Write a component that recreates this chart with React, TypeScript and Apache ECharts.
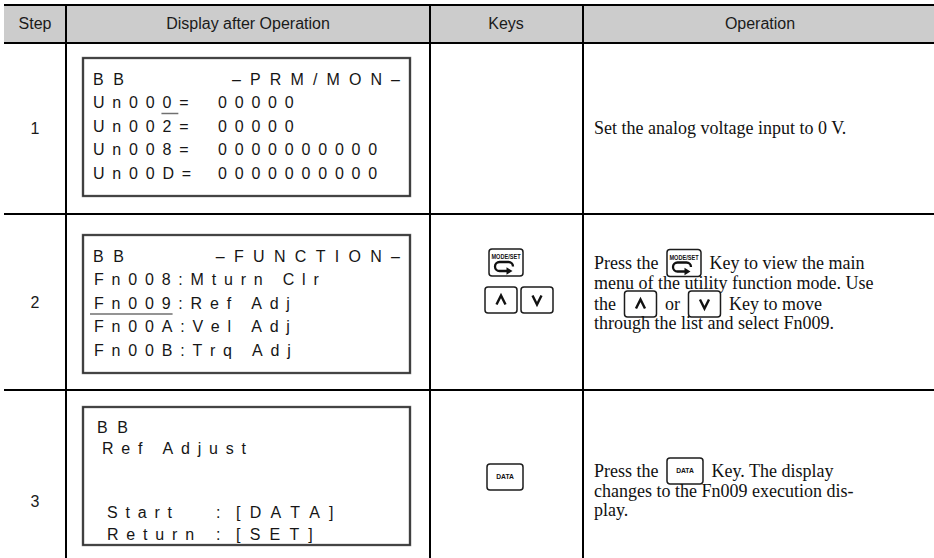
import React, { useEffect, useRef } from "react";
import * as echarts from "echarts";

// ---------------- data ----------------
const headers = ["Step", "Display after Operation", "Keys", "Operation"];
const steps = ["1", "2", "3"];

const display1: string[][] = [
  ["BB", "–PRM/MON–"],
  ["Un000=", "00000"],
  ["Un002=", "00000"],
  ["Un008=", "0000000000"],
  ["Un00D=", "0000000000"],
];
const display2: string[][] = [
  ["BB", "–FUNCTION–"],
  ["Fn008:Mturn Clr"],
  ["Fn009:Ref Adj"],
  ["Fn00A:Vel Adj"],
  ["Fn00B:Trq Adj"],
];
const display3: string[][] = [
  ["BB"],
  ["Ref Adjust"],
  [],
  [],
  ["Start", ":", "[DATA]"],
  ["Return", ":", "[SET]"],
];
// cursor underline: [row, first char, last char] of segment 0
const cursor1 = [1, 4, 4];
const cursor2 = [2, 0, 4];

const keys2: string[][] = [["MODE/SET"], ["UP", "DOWN"]];
const keys3: string[][] = [["DATA"]];

const operation1: string[][] = [["Set the analog voltage input to 0 V."]];
const operation2: string[][] = [
  ["Press the ", "{MODE/SET}", " Key to view the main"],
  ["menu of the utility function mode. Use"],
  ["the ", "{UP}", " or ", "{DOWN}", " Key to move"],
  ["through the list and select Fn009."],
];
const operation3: string[][] = [
  ["Press the ", "{DATA}", " Key. The display"],
  ["changes to the Fn009 execution dis-"],
  ["play."],
];

// ---------------- layout / style ----------------
const W = 934;
const H = 558;
const LCD_FONT = '16px "Liberation Sans"';
const HEAD_FONT = '16px "Liberation Sans"';
const OP_FONT = '18px "Liberation Serif"';
const INK = "#1a1a1a";

let shapesRegistered = false;
function registerShapes() {
  if (shapesRegistered) return;
  shapesRegistered = true;
  const Loop = (echarts.graphic as any).extendPath(
    "M 3 4.5 L -4.5 4.5 A 4.5 4.5 0 0 1 -4.5 -4.5 L 4.5 -4.5 A 4.5 4.5 0 0 1 9 0",
    {}
  );
  (echarts.graphic as any).registerShape("modeLoop", Loop);
}

let ctx: CanvasRenderingContext2D | null = null;
function measure(s: string, font: string): number {
  if (!ctx) ctx = document.createElement("canvas").getContext("2d");
  ctx!.font = font;
  return ctx!.measureText(s).width;
}

function txt(x: number, y: number, text: string, font: string, align = "left", fill = INK, scaleX = 1) {
  return {
    type: "text",
    x,
    y,
    scaleX,
    silent: true,
    style: {
      text,
      font,
      fill,
      textAlign: align,
      textVerticalAlign: "middle",
      align,
      verticalAlign: "middle",
    },
  };
}

function lcdSegment(els: any[], text: string, x: number, y: number, sp: number, right = false) {
  const chars = [...text];
  const ws = chars.map((c) => measure(c, LCD_FONT));
  const total = ws.reduce((a, b) => a + b, 0) + sp * (chars.length - 1);
  let cx = right ? x - total : x;
  const xs: number[] = [];
  chars.forEach((c, i) => {
    xs.push(cx);
    if (c !== " ") els.push(txt(cx, y, c, LCD_FONT, "left", "#161616"));
    cx += ws[i] + sp;
  });
  return { xs, ws };
}

function keyIcon(els: any[], kind: string, x: number, y: number, w: number, h: number) {
  els.push({
    type: "rect",
    shape: { x, y, width: w, height: h, r: 3 },
    style: { fill: "#fff", stroke: "#1c1c1c", lineWidth: 1.5 },
  });
  const cx = x + w / 2;
  const cy = y + h / 2;
  if (kind === "MODE/SET") {
    els.push(txt(cx, y + 7.5, "MODE/SET", 'bold 7px "Liberation Sans"', "center", "#111", 0.8));
    els.push({
      type: "modeLoop",
      x: cx - 2,
      y: y + 17.5,
      style: { fill: "none", stroke: "#111", lineWidth: 2.3 },
    });
    els.push({
      type: "polygon",
      x: cx - 2,
      y: y + 17.5,
      shape: { points: [[8.5, 4.5], [2.5, 0.8], [2.5, 8.2]] },
      style: { fill: "#111" },
    });
  } else if (kind === "UP" || kind === "DOWN") {
    const d = kind === "UP" ? 1 : -1;
    els.push({
      type: "polyline",
      shape: {
        points: [
          [cx - 4.5, cy + 4.5 * d],
          [cx, cy - 4.5 * d],
          [cx + 4.5, cy + 4.5 * d],
        ],
      },
      style: { fill: "none", stroke: "#111", lineWidth: 2.4 },
    });
  } else if (kind === "DATA") {
    els.push(txt(cx, cy, "DATA", 'bold 7.5px "Liberation Sans"', "center", "#111", 0.9));
  }
}

const ICON_SIZE: Record<string, [number, number]> = {
  "MODE/SET": [34, 27],
  UP: [32, 26],
  DOWN: [32, 26],
  DATA: [36, 26],
};

function opLines(els: any[], lines: string[][], ys: number[], x0: number) {
  lines.forEach((tokens, li) => {
    let x = x0;
    const y = ys[li];
    tokens.forEach((t) => {
      const m = t.match(/^\{(.+)\}$/);
      if (m) {
        const [w, h] = ICON_SIZE[m[1]];
        x += 4;
        keyIcon(els, m[1], x, y - h / 2, w, h);
        x += w + 4;
      } else {
        els.push(txt(x, y, t, OP_FONT, "left", "#111"));
        x += measure(t, OP_FONT);
      }
    });
  });
}

function buildElements() {
  const els: any[] = [];
  // header band
  els.push({ type: "rect", shape: { x: 4, y: 5, width: W - 4, height: 38 }, style: { fill: "#cccccc" } });
  // rules
  const hRules = [4, 42, 213, 389];
  hRules.forEach((y) =>
    els.push({ type: "rect", shape: { x: 4, y, width: W - 4, height: 2 }, style: { fill: "#000" } })
  );
  const vRules = [65, 429, 582];
  vRules.forEach((x) =>
    els.push({ type: "rect", shape: { x, y: 4, width: 2, height: H - 4 }, style: { fill: "#000" } })
  );
  // header texts
  const headX = [35, 248, 506, 760];
  headers.forEach((h, i) => els.push(txt(headX[i], 23, h, HEAD_FONT, "center")));
  // step numbers
  const stepY = [128, 302, 501];
  steps.forEach((s, i) => els.push(txt(35, stepY[i], s, HEAD_FONT, "center")));

  // display boxes
  const boxY = [58, 235, 407];
  boxY.forEach((y) => {
    els.push({
      type: "rect",
      shape: { x: 83, y, width: 327, height: 138 },
      style: { fill: "#fff", stroke: "#8a8a8a", lineWidth: 2.6 },
    });
    els.push({
      type: "rect",
      shape: { x: 83, y, width: 327, height: 138 },
      style: { fill: "none", stroke: "#2e2e2e", lineWidth: 1.6 },
    });
  });

  // display 1
  display1.forEach((segs, r) => {
    const y = 79 + r * 23.5;
    if (r === 0) {
      lcdSegment(els, segs[0], 93, y, 9.5);
      lcdSegment(els, segs[1], 400, y, 9.1, true);
    } else {
      const s0 = lcdSegment(els, segs[0], 93, y, 7.8);
      lcdSegment(els, segs[1], 218, y, 7.8);
      if (r === cursor1[0]) {
        const a = s0.xs[cursor1[1]] - 1;
        const b = s0.xs[cursor1[2]] + s0.ws[cursor1[2]] + 7;
        els.push({
          type: "line",
          shape: { x1: a, y1: y + 11, x2: b, y2: y + 11 },
          style: { stroke: "#707070", lineWidth: 1.5 },
        });
      }
    }
  });
  // display 2
  display2.forEach((segs, r) => {
    const y = 256 + r * 23.5;
    if (r === 0) {
      lcdSegment(els, segs[0], 93, y, 9.5);
      lcdSegment(els, segs[1], 400, y, 9.3, true);
    } else {
      const s0 = lcdSegment(els, segs[0], 94, y, 7.8);
      if (r === cursor2[0]) {
        const a = s0.xs[cursor2[1]] - 4;
        const b = s0.xs[cursor2[2]] + s0.ws[cursor2[2]] + 2;
        els.push({
          type: "line",
          shape: { x1: a, y1: y + 11, x2: b, y2: y + 11 },
          style: { stroke: "#707070", lineWidth: 1.5 },
        });
      }
    }
  });
  // display 3
  const d3x = [[97], [102], [], [], [107, 216, 236], [107, 216, 236]];
  const d3sp = [[9.5], [7.8], [], [], [7.8, 7.8, 9.2], [7.8, 7.8, 9.2]];
  display3.forEach((segs, r) => {
    const y = 427 + r * 21.4;
    segs.forEach((s, i) => lcdSegment(els, s, d3x[r][i], y, d3sp[r][i]));
  });

  // keys column
  const k2pos: [number, number][][] = [[[489, 249]], [[485, 287], [521, 287]]];
  keys2.forEach((row, r) =>
    row.forEach((k, i) => {
      const [w, h] = ICON_SIZE[k];
      keyIcon(els, k, k2pos[r][i][0], k2pos[r][i][1], w, h);
    })
  );
  const k3pos: [number, number][][] = [[[487, 464]]];
  keys3.forEach((row, r) =>
    row.forEach((k, i) => {
      const [w, h] = ICON_SIZE[k];
      keyIcon(els, k, k3pos[r][i][0], k3pos[r][i][1], w, h);
    })
  );

  // operation column
  opLines(els, operation1, [128], 594);
  opLines(els, operation2, [263, 283, 304, 323], 594);
  opLines(els, operation3, [471, 491, 510], 594);
  return els;
}

export default function App() {
  const ref = useRef<HTMLDivElement>(null);
  useEffect(() => {
    document.body.style.margin = "0";
    registerShapes();
    const chart = echarts.init(ref.current!, undefined, { renderer: "svg" });
    chart.setOption({
      animation: false,
      backgroundColor: "#ffffff",
      graphic: { elements: buildElements() },
    });
    return () => chart.dispose();
  }, []);
  return <div ref={ref} style={{ width: W, height: H }} />;
}
